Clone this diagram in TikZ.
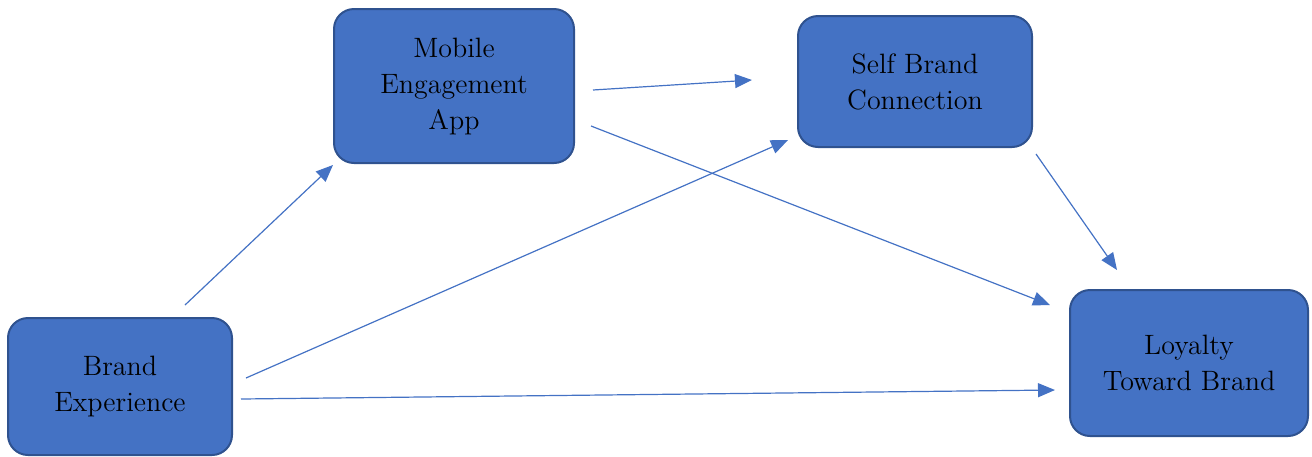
\documentclass[tikz,border=0pt]{standalone}
\usepackage{tikz}
\usetikzlibrary{arrows.meta}
\definecolor{boxblue}{HTML}{4472C4}
\definecolor{boxedge}{HTML}{2F528F}
\tikzstyle{every node}=[font=\fontsize{14}{18}\selectfont]
\tikzstyle{block}=[draw=boxedge,line width=1pt,fill=boxblue,rounded corners=10pt,align=center,text=black]
\tikzstyle{link}=[->,line width=0.6pt,boxblue]

\begin{document}
\begin{tikzpicture}[x=0.5pt,y=-0.5pt,>={Triangle[length=8.5pt,width=7pt]}]
          \useasboundingbox (0,0) rectangle (1312,456);
          \node[block,minimum width=120pt,minimum height=77pt] (App) at (454,86) {Mobile\\Engagement\\App};
          \node[block,minimum width=117pt,minimum height=65.5pt] (Self) at (915,81.5) {Self Brand\\Connection};
          \node[block,minimum width=112pt,minimum height=68.5pt] (Exp) at (120,386.5) {Brand\\Experience};
          \node[block,minimum width=119pt,minimum height=73pt] (Loy) at (1189,363) {Loyalty\\Toward Brand};
          % free ends of the connectors
          \coordinate (E1) at (185,305);  \coordinate (A1) at (333,165);
          \coordinate (A2) at (593,90);   \coordinate (S1) at (752,80);
          \coordinate (A3) at (591,126);  \coordinate (L1) at (1050,305);
          \coordinate (E2) at (246,378);  \coordinate (S2) at (788,140);
          \coordinate (E3) at (241,399);  \coordinate (L2) at (1055,390);
          \coordinate (S3) at (1036,154); \coordinate (L3) at (1117,270);
	    \path[link] (E1) edge (A1);
	    \path[link] (A2) edge (S1);
	    \path[link] (A3) edge (L1);
	    \path[link] (E2) edge (S2);
	    \path[link] (E3) edge (L2);
	    \path[link] (S3) edge (L3);
        \end{tikzpicture}
\end{document}
